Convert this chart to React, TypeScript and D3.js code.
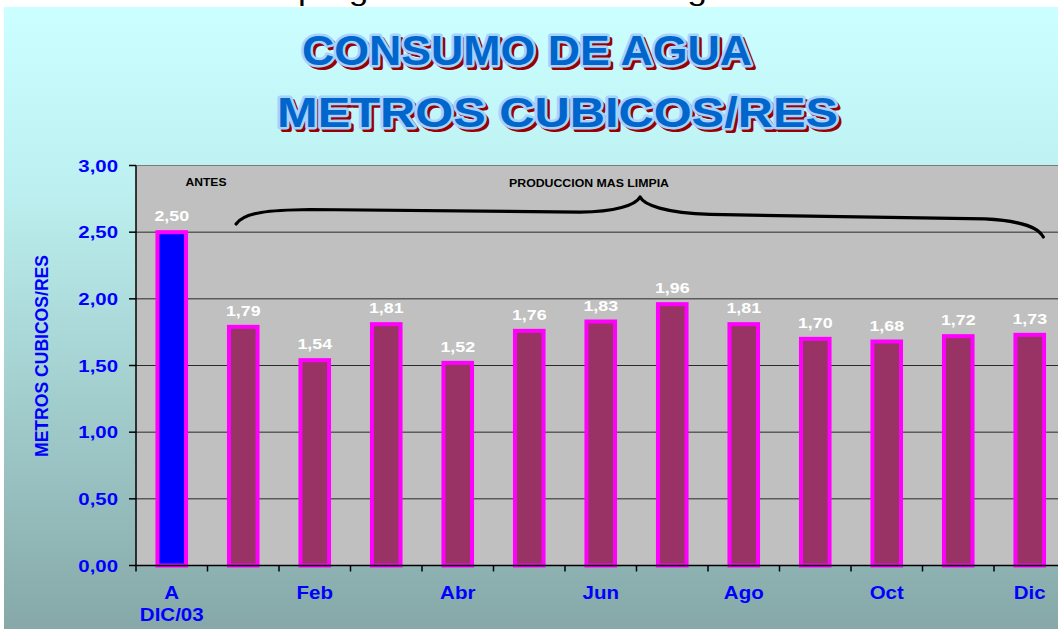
import React from "react";
import * as d3 from "d3";

const categoryLines: string[][] = [["A", "DIC/03"], [""], ["Feb"], [""], ["Abr"], [""], ["Jun"], [""], ["Ago"], [""], ["Oct"], [""], ["Dic"]];
const values: number[] = [2.5, 1.79, 1.54, 1.81, 1.52, 1.76, 1.83, 1.96, 1.81, 1.7, 1.68, 1.72, 1.73];
const barColors: string[] = ["#0000ff", "#993366", "#993366", "#993366", "#993366", "#993366", "#993366", "#993366", "#993366", "#993366", "#993366", "#993366", "#993366"];
const yTicks: number[] = [0, 0.5, 1, 1.5, 2, 2.5, 3];
const titleLines: string[] = ["CONSUMO DE AGUA", "METROS CUBICOS/RES"];
const yTitle = "METROS CUBICOS/RES";
const noteBefore = "ANTES";
const noteAfter = "PRODUCCION MAS LIMPIA";
const topPrefix = "Eficiencia ambiental.";
const topText = "programa de ahorro de agua";
// brace annotation, in (category position, value) units
const braceStart: [number, number] = [1.4, 2.561];
const braceSegs: [number, number][][] = [
  [[1.52, 2.651], [1.87, 2.666], [2.43, 2.67]],
  [[6.21, 2.651]],
  [[6.7, 2.651], [6.99, 2.704], [7.05, 2.764]],
  [[7.1, 2.704], [7.4, 2.644], [8.03, 2.633]],
  [[11.87, 2.599]],
  [[12.43, 2.584], [12.62, 2.531], [12.69, 2.464]],
];

const W = 1058;
const H = 629;
const FONT = "'Liberation Sans', Arial, sans-serif";

function T(props: any) {
  const { x, y, sx = 1, anchor = "start", size, fill = "#000", weight = "bold", children, ...rest } = props;
  return (
    <text
      transform={`translate(${x},${y}) scale(${sx},1)`}
      textAnchor={anchor}
      fontSize={size}
      fill={fill}
      fontWeight={weight}
      fontFamily={FONT}
      {...rest}
    >
      {children}
    </text>
  );
}

export default function App() {
  const plotLeft = 136;
  const step = 71.5;
  const plotRight = plotLeft + step * values.length;
  const plotTop = 165.5;
  const plotBottom = 565.5;

  const x = d3
    .scaleBand<number>()
    .domain(values.map((_, i) => i))
    .range([plotLeft, plotRight])
    .padding(0);
  const xPos = d3.scaleLinear().domain([0, values.length]).range([plotLeft, plotRight]);
  const y = d3.scaleLinear().domain([0, 3]).range([plotBottom, plotTop]);
  const fmt = (v: number) => d3.format(".2f")(v).replace(".", ",");
  const barW = x.bandwidth() * 0.4;

  const p = d3.path();
  p.moveTo(xPos(braceStart[0]), y(braceStart[1]));
  braceSegs.forEach((seg) => {
    if (seg.length === 1) p.lineTo(xPos(seg[0][0]), y(seg[0][1]));
    else
      p.bezierCurveTo(
        xPos(seg[0][0]), y(seg[0][1]),
        xPos(seg[1][0]), y(seg[1][1]),
        xPos(seg[2][0]), y(seg[2][1])
      );
  });

  const titleSpans = [
    { x: 302, y: 65, len: 450 },
    { x: 277, y: 127, len: 561 },
  ];

  return (
    <svg width={W} height={H} style={{ position: "absolute", left: 0, top: 0 }}>
      <defs>
        <linearGradient id="bg" x1="0" y1="0" x2="0" y2="1">
          <stop offset="0" stopColor="#ccffff" />
          <stop offset="0.3" stopColor="#bcefef" />
          <stop offset="1" stopColor="#86a8a8" />
        </linearGradient>
      </defs>
      <rect x={0} y={0} width={W} height={H} fill="#ffffff" />
      <T x={288} y={0} size={28} weight="normal" anchor="end" fill="#000">{topPrefix}</T>
      <text x={298} y={0} fontSize={28} fontFamily={FONT} fill="#000" textLength={448} lengthAdjust="spacingAndGlyphs">{topText}</text>
      <rect x={4} y={7} width={W - 4} height={H - 7} fill="url(#bg)" />

      {/* title */}
      {titleLines.map((t, i) => (
        <g key={"t" + i} fontFamily={FONT} fontWeight="bold" fontSize={42}>
          <text x={titleSpans[i].x + 3} y={titleSpans[i].y + 3} fill="#990000" stroke="#990000" strokeWidth={4} strokeLinejoin="round" textLength={titleSpans[i].len} lengthAdjust="spacingAndGlyphs">{t}</text>
          <text x={titleSpans[i].x} y={titleSpans[i].y} fill="#0066cc" stroke="#a6d2ff" strokeWidth={5} strokeLinejoin="round" paintOrder="stroke" textLength={titleSpans[i].len} lengthAdjust="spacingAndGlyphs">{t}</text>
        </g>
      ))}

      {/* plot area */}
      <rect x={plotLeft} y={plotTop} width={plotRight - plotLeft} height={plotBottom - plotTop} fill="#c0c0c0" />
      {yTicks.map((t) => (
        <line key={"g" + t} x1={plotLeft} x2={plotRight} y1={y(t)} y2={y(t)} stroke={t === 3 ? "#7a7a7a" : "#2a2a2a"} strokeWidth={1} />
      ))}

      {/* bars */}
      {values.map((v, i) => (
        <rect
          key={"b" + i}
          x={(x(i) as number) + (x.bandwidth() - barW) / 2}
          y={y(v)}
          width={barW}
          height={y(0) - y(v)}
          fill={barColors[i]}
          stroke="#ff00ff"
          strokeWidth={4}
        />
      ))}

      {/* axes */}
      <line x1={plotLeft} x2={plotLeft} y1={plotTop} y2={plotBottom} stroke="#000" strokeWidth={1.5} />
      <line x1={plotLeft} x2={plotRight} y1={plotBottom} y2={plotBottom} stroke="#000" strokeWidth={1.5} />
      {yTicks.map((t) => (
        <g key={"yt" + t}>
          <line x1={plotLeft - 7} x2={plotLeft} y1={y(t)} y2={y(t)} stroke="#000" strokeWidth={1.5} />
          <T x={118} y={y(t) + 6} sx={1.2} anchor="end" size={17} fill="#0000ff">{fmt(t)}</T>
        </g>
      ))}
      {d3.range(values.length + 1).map((i) => (
        <line key={"xt" + i} x1={xPos(i)} x2={xPos(i)} y1={plotBottom} y2={plotBottom + 6} stroke="#000" strokeWidth={1.5} />
      ))}
      {categoryLines.map((lines, i) =>
        lines.map((l, j) => (
          <T key={"xl" + i + "-" + j} x={(x(i) as number) + x.bandwidth() / 2} y={599 + j * 22} sx={1.14} anchor="middle" size={18} fill="#0000ff">{l}</T>
        ))
      )}

      {/* data labels */}
      {values.map((v, i) => (
        <T key={"dl" + i} x={(x(i) as number) + x.bandwidth() / 2} y={y(v) - 11} sx={1.15} anchor="middle" size={15.5} fill="#ffffff">{fmt(v)}</T>
      ))}

      {/* annotations */}
      <T x={206} y={186} sx={1.1} anchor="middle" size={11} fill="#000">{noteBefore}</T>
      <T x={589} y={186.5} sx={1.12} anchor="middle" size={11} fill="#000">{noteAfter}</T>
      <path d={p.toString()} fill="none" stroke="#000" strokeWidth={3.2} strokeLinecap="round" strokeLinejoin="round" />

      {/* y title */}
      <text
        transform={`translate(48,356) rotate(-90)`}
        textAnchor="middle"
        fontSize={18}
        fontWeight="bold"
        fontFamily={FONT}
        fill="#0000ff"
        textLength={202}
        lengthAdjust="spacingAndGlyphs"
      >
        {yTitle}
      </text>
    </svg>
  );
}
